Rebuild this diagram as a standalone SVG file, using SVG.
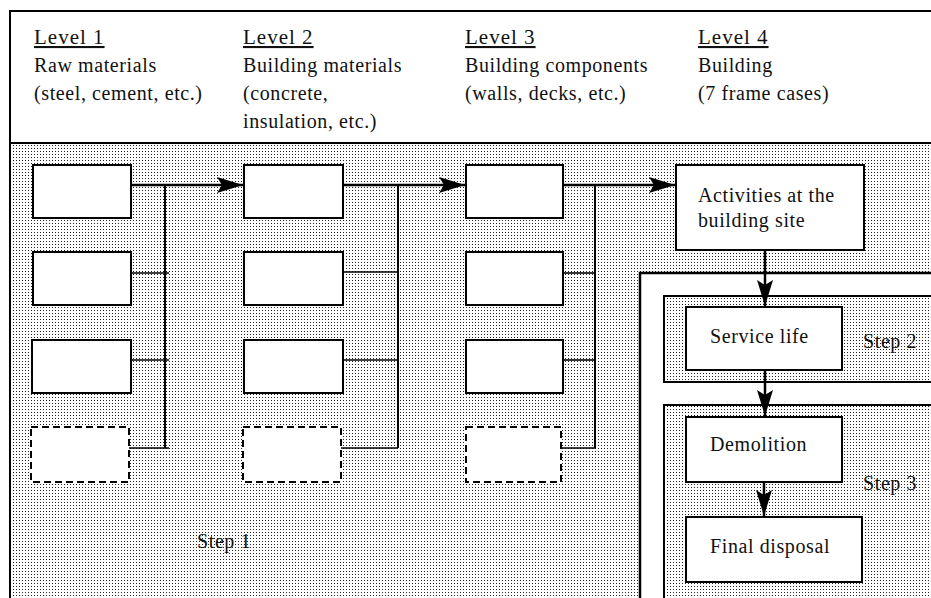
<svg xmlns="http://www.w3.org/2000/svg" width="931" height="598" viewBox="0 0 931 598">
  <defs>
    <pattern id="dots" width="3" height="3" patternUnits="userSpaceOnUse">
      <rect width="3" height="3" fill="#ffffff"/>
      <rect x="1" y="1" width="1" height="1" fill="#222"/>
    </pattern>
    <marker id="ah" markerUnits="userSpaceOnUse" markerWidth="27" markerHeight="17" refX="26" refY="8" orient="auto">
      <path d="M0,0 L26,8 L0,16 L5,8 z" fill="#000"/>
    </marker>
    <style>
      .t { fill: #111; font-size: 20px; letter-spacing: 0.6px; }
      .lvl { font-size: 21px; letter-spacing: 1px; text-decoration: underline; }
      .box { fill: #fff; stroke: #000; stroke-width: 2; }
      .dash { fill: #fff; stroke: #000; stroke-width: 2; stroke-dasharray: 7 4; }
      .band { fill: url(#dots); stroke: #000; stroke-width: 2; }
      .bus { fill: none; stroke: #000; stroke-width: 2; }
      .tap { fill: none; stroke: #000; stroke-width: 1.6; }
      .arr { fill: none; stroke: #000; stroke-width: 2.5; marker-end: url(#ah); }
    </style>
  </defs>

  <rect x="0" y="0" width="931" height="598" fill="#fff"/>
  <g id="frame">
    <rect x="10" y="143" width="930" height="470" fill="url(#dots)"/>
    <line x1="10" y1="11" x2="931" y2="11" stroke="#000" stroke-width="2"/>
    <line x1="10" y1="143" x2="931" y2="143" stroke="#000" stroke-width="2"/>
    <line x1="10" y1="10" x2="10" y2="598" stroke="#000" stroke-width="2"/>
  </g>

  <g id="header" font-family="'Liberation Serif', 'DejaVu Serif', serif">
    <text class="t lvl" x="34" y="44">Level 1</text>
    <text class="t" x="34" y="72">Raw materials</text>
    <text class="t" x="34" y="100">(steel, cement, etc.)</text>

    <text class="t lvl" x="243" y="44">Level 2</text>
    <text class="t" x="243" y="72">Building materials</text>
    <text class="t" x="243" y="100">(concrete,</text>
    <text class="t" x="243" y="128">insulation, etc.)</text>

    <text class="t lvl" x="465" y="44">Level 3</text>
    <text class="t" x="465" y="72">Building components</text>
    <text class="t" x="465" y="100">(walls, decks, etc.)</text>

    <text class="t lvl" x="698" y="44">Level 4</text>
    <text class="t" x="698" y="72">Building</text>
    <text class="t" x="698" y="100">(7 frame cases)</text>
  </g>

  <g id="lifecycle-container">
    <rect x="640" y="273" width="300" height="340" fill="#fff" stroke="#000" stroke-width="2.5"/>
  </g>
  <g id="step2" font-family="'Liberation Serif', 'DejaVu Serif', serif">
    <rect class="band" x="664" y="296" width="280" height="86"/>
    <text class="t" x="863" y="348">Step 2</text>
  </g>
  <g id="step3" font-family="'Liberation Serif', 'DejaVu Serif', serif">
    <rect class="band" x="664" y="405" width="280" height="210"/>
    <text class="t" x="863" y="490">Step 3</text>
  </g>

  <g id="l1-a"><rect class="box" x="33" y="165" width="98" height="53"/></g>
  <g id="l1-b"><rect class="box" x="33" y="252" width="98" height="53"/></g>
  <g id="l1-c"><rect class="box" x="32" y="340" width="99" height="53"/></g>
  <g id="l1-d"><rect class="dash" x="31" y="427" width="98" height="55"/></g>

  <g id="l2-a"><rect class="box" x="244" y="165" width="99" height="53"/></g>
  <g id="l2-b"><rect class="box" x="244" y="252" width="99" height="53"/></g>
  <g id="l2-c"><rect class="box" x="244" y="340" width="99" height="53"/></g>
  <g id="l2-d"><rect class="dash" x="243" y="427" width="98" height="55"/></g>

  <g id="l3-a"><rect class="box" x="466" y="165" width="97" height="53"/></g>
  <g id="l3-b"><rect class="box" x="466" y="252" width="97" height="53"/></g>
  <g id="l3-c"><rect class="box" x="466" y="340" width="97" height="53"/></g>
  <g id="l3-d"><rect class="dash" x="466" y="427" width="95" height="55"/></g>

  <g id="site" font-family="'Liberation Serif', 'DejaVu Serif', serif">
    <rect class="box" x="676" y="165" width="188" height="85"/>
    <text class="t" x="698" y="202">Activities at the</text>
    <text class="t" x="698" y="227">building site</text>
  </g>
  <g id="service-life" font-family="'Liberation Serif', 'DejaVu Serif', serif">
    <rect class="box" x="686" y="307" width="156" height="63"/>
    <text class="t" x="710" y="343">Service life</text>
  </g>
  <g id="demolition" font-family="'Liberation Serif', 'DejaVu Serif', serif">
    <rect class="box" x="686" y="417" width="156" height="65"/>
    <text class="t" x="710" y="451">Demolition</text>
  </g>
  <g id="final-disposal" font-family="'Liberation Serif', 'DejaVu Serif', serif">
    <rect class="box" x="686" y="517" width="176" height="65"/>
    <text class="t" x="710" y="553">Final disposal</text>
  </g>

  <g id="step1" font-family="'Liberation Serif', 'DejaVu Serif', serif">
    <text class="t" x="197" y="548">Step 1</text>
  </g>

  <g id="connectors">
    <line class="bus" x1="165" y1="185" x2="165" y2="448"/>
    <line class="tap" x1="131" y1="273" x2="169" y2="273"/>
    <line class="tap" x1="131" y1="360" x2="169" y2="360"/>
    <line class="tap" x1="129" y1="448" x2="169" y2="448"/>
    <line class="arr" x1="131" y1="185" x2="243" y2="185"/>
    <line class="bus" x1="398" y1="185" x2="398" y2="448"/>
    <line class="tap" x1="343" y1="272" x2="398" y2="272"/>
    <line class="tap" x1="343" y1="360" x2="398" y2="360"/>
    <line class="tap" x1="341" y1="448" x2="398" y2="448"/>
    <line class="arr" x1="343" y1="185" x2="465" y2="185"/>
    <line class="bus" x1="595" y1="185" x2="595" y2="448"/>
    <line class="tap" x1="563" y1="273" x2="595" y2="273"/>
    <line class="tap" x1="563" y1="360" x2="595" y2="360"/>
    <line class="tap" x1="561" y1="448" x2="595" y2="448"/>
    <line class="arr" x1="563" y1="185" x2="675" y2="185"/>
    <line class="arr" x1="765" y1="250" x2="765" y2="306"/>
    <line class="arr" x1="765" y1="370" x2="765" y2="416"/>
    <line class="arr" x1="764" y1="482" x2="764" y2="516"/>
  </g>
</svg>
